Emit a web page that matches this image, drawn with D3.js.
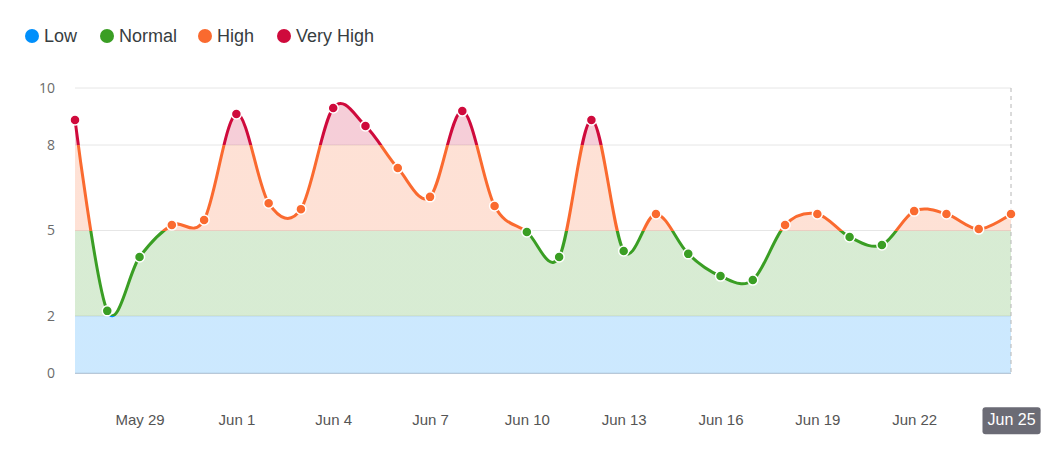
<!DOCTYPE html>
<html>
<head>
<meta charset="utf-8">
<script src="https://cdn.jsdelivr.net/npm/d3@7"></script>
<style>
  html, body { margin: 0; padding: 0; background: #fff; }
  svg { display: block; font-family: "Open Sans", "Noto Sans", Arial, sans-serif; }
</style>
</head>
<body>
<svg id="chart" width="1062" height="464"></svg>
<script>
// ---- data ----
const dates = ["2024-05-27","2024-05-28","2024-05-29","2024-05-30","2024-05-31",
  "2024-06-01","2024-06-02","2024-06-03","2024-06-04","2024-06-05","2024-06-06",
  "2024-06-07","2024-06-08","2024-06-09","2024-06-10","2024-06-11","2024-06-12",
  "2024-06-13","2024-06-14","2024-06-15","2024-06-16","2024-06-17","2024-06-18",
  "2024-06-19","2024-06-20","2024-06-21","2024-06-22","2024-06-23","2024-06-24","2024-06-25"];
const values = [8.88, 2.18, 4.07, 5.19, 5.37,
  9.09, 5.96, 5.75, 9.30, 8.67, 7.19,
  6.18, 9.19, 5.86, 4.95, 4.07, 8.88,
  4.28, 5.58, 4.18, 3.40, 3.26, 5.19,
  5.58, 4.77, 4.49, 5.68, 5.58, 5.05, 5.58];
const bandNames = ["Low", "Normal", "High", "Very High"];
const bandColors = ["#008FFB", "#3A9E24", "#FA6A2F", "#CF0A3C"];
const bandEdges = [0, 2, 5, 8, 10];
const yTicks = [0, 2, 5, 8, 10];
const xTickDates = ["2024-05-29","2024-06-01","2024-06-04","2024-06-07","2024-06-10",
  "2024-06-13","2024-06-16","2024-06-19","2024-06-22","2024-06-25"];

// ---- setup ----
const parse = d3.utcParse("%Y-%m-%d");
const fmt = d3.utcFormat("%b %-d");
const data = dates.map((d, i) => ({ date: parse(d), value: values[i] }));
const svg = d3.select("#chart");
const margin = { left: 75, right: 51, top: 88, bottom: 91 };
const W = 1062, H = 464;

const x = d3.scaleUtc()
  .domain(d3.extent(data, d => d.date))
  .range([margin.left, W - margin.right]);
const y = d3.scaleLinear().domain([0, 10]).range([H - margin.bottom, margin.top]);

const bandOf = v => v < 2 ? 0 : v < 5 ? 1 : v < 8 ? 2 : 3;

// gradients
const defs = svg.append("defs");
function makeGrad(id, opacity) {
  const g = defs.append("linearGradient").attr("id", id)
    .attr("gradientUnits", "userSpaceOnUse")
    .attr("x1", 0).attr("x2", 0).attr("y1", y(0)).attr("y2", y(10));
  bandColors.forEach((c, i) => {
    const o0 = bandEdges[i] / 10, o1 = bandEdges[i + 1] / 10;
    g.append("stop").attr("offset", o0).attr("stop-color", c).attr("stop-opacity", opacity);
    g.append("stop").attr("offset", o1).attr("stop-color", c).attr("stop-opacity", opacity);
  });
}
makeGrad("lineGrad", 1);
makeGrad("areaGrad", 0.2);

// grid
svg.append("g").selectAll("line").data(yTicks).join("line")
  .attr("x1", margin.left).attr("x2", W - margin.right)
  .attr("y1", d => y(d)).attr("y2", d => y(d))
  .attr("stroke", "#e6e6e6").attr("stroke-width", 1);

// area
const curve = d3.curveCatmullRom.alpha(0);
const area = d3.area().x(d => x(d.date)).y0(y(0)).y1(d => y(d.value)).curve(curve);
svg.append("path").datum(data).attr("d", area).attr("fill", "url(#areaGrad)");

// baseline
svg.append("line").attr("x1", margin.left).attr("x2", W - margin.right)
  .attr("y1", y(0) + 0.5).attr("y2", y(0) + 0.5)
  .attr("stroke", "#b8c8d8").attr("stroke-width", 1);

// crosshair
svg.append("line").attr("x1", x(data[data.length - 1].date)).attr("x2", x(data[data.length - 1].date))
  .attr("y1", y(10)).attr("y2", y(0))
  .attr("stroke", "#b6b6b6").attr("stroke-width", 1).attr("stroke-dasharray", "4,4");

// line
const line = d3.line().x(d => x(d.date)).y(d => y(d.value)).curve(curve);
svg.append("path").datum(data).attr("d", line)
  .attr("fill", "none").attr("stroke", "url(#lineGrad)").attr("stroke-width", 3)
  .attr("stroke-linecap", "round").attr("stroke-linejoin", "round");

// markers
svg.append("g").selectAll("circle").data(data).join("circle")
  .attr("cx", d => x(d.date)).attr("cy", d => y(d.value)).attr("r", 5)
  .attr("fill", d => bandColors[bandOf(d.value)])
  .attr("stroke", "#fff").attr("stroke-width", 1.5);

// y axis labels
const yAxis = d3.axisLeft(y).tickValues(yTicks).tickSize(0).tickPadding(0);
const yg = svg.append("g").attr("transform", `translate(55,0)`).call(yAxis);
yg.select(".domain").remove();
yg.selectAll("text").attr("font-size", 14).attr("fill", "#6b6b6b")
  .attr("font-family", "\"Open Sans\", \"Noto Sans\", Arial, sans-serif");

// x axis labels
const xTicks = xTickDates.map(parse);
const xAxis = d3.axisBottom(x).tickValues(xTicks).tickFormat(fmt).tickSize(0).tickPadding(0);
const xg = svg.append("g").attr("transform", `translate(0,414)`).call(xAxis);
xg.select(".domain").remove();
xg.selectAll("text").attr("font-size", 15).attr("fill", "#555")
  .attr("font-family", "\"Liberation Sans\", Arial, sans-serif");

// tooltip label for last date
const last = xTicks[xTicks.length - 1];
xg.selectAll(".tick").filter(d => +d === +last).each(function() {
  const t = d3.select(this);
  const txt = t.select("text").attr("fill", "#fff").attr("font-size", 16);
  const bb = txt.node().getBBox();
  t.insert("rect", "text")
    .attr("x", bb.x - 5).attr("y", bb.y - 4)
    .attr("width", bb.width + 10).attr("height", bb.height + 10)
    .attr("rx", 3).attr("fill", "#6b6b75");
});

// legend
const legendX = [32, 107, 205, 284];
const lg = svg.append("g");
bandNames.forEach((n, i) => {
  const g = lg.append("g").attr("transform", `translate(${legendX[i]},36)`);
  g.append("circle").attr("r", 7).attr("fill", bandColors[i]);
  g.append("text").attr("x", 12).attr("dy", "0.35em").attr("font-size", 18)
    .attr("font-family", "\"Liberation Sans\", Arial, sans-serif")
    .attr("fill", "#373d3f").text(n);
});
</script>
</body>
</html>
